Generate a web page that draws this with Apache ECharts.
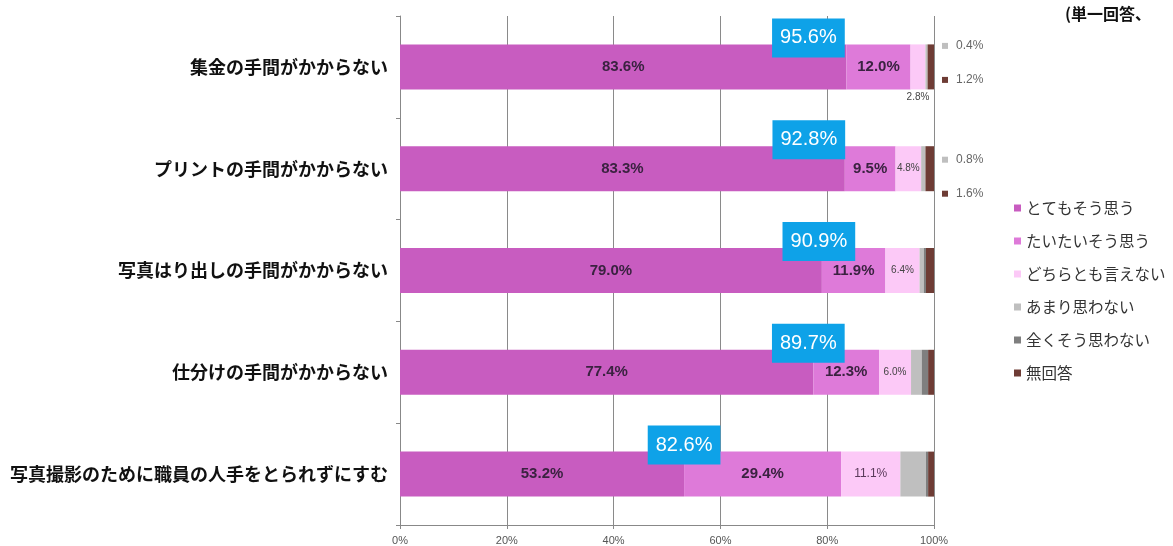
<!DOCTYPE html>
<html><head><meta charset="utf-8">
<script src="https://cdn.jsdelivr.net/npm/echarts@6/dist/echarts.min.js"></script>
<style>html,body{margin:0;padding:0;background:#fff;}#c{width:1173px;height:546px;}</style>
</head><body><div id="c"></div>
<script>
// ---- data ----
const categories = ['集金の手間がかからない','プリントの手間がかからない','写真はり出しの手間がかからない','仕分けの手間がかからない','写真撮影のために職員の人手をとられずにすむ'];
const seriesNames = ['とてもそう思う','たいたいそう思う','どちらとも言えない','あまり思わない','全くそう思わない','無回答'];
const veryMuch = [83.6, 83.3, 79.0, 77.4, 53.2];
const mostly   = [12.0, 9.5, 11.9, 12.3, 29.4];
const neutral  = [2.8, 4.8, 6.4, 6.0, 11.1];
const notMuch  = [0.4, 0.8, 0.8, 2.0, 4.8];
const notAtAll = [0, 0, 0.4, 1.2, 0.4];
const noAnswer = [1.2, 1.6, 1.6, 1.2, 1.2];
const noteText = '(単一回答、';

// ---- layout / style ----
const colors = ['#c85cc0','#de7ad9','#fcc9f7','#bfbfbf','#7f7f7f','#6e3c35'];
const boxDx = [-38, -36, -3, -5, 0];
const sideDy = [-4, 8, 7, 6, 6];
const numFont = '"Liberation Sans", Arial, sans-serif';
const jpFont = '"Noto Sans CJK JP", sans-serif';

const allSeries = [veryMuch, mostly, neutral, notMuch, notAtAll, noAnswer];

const bars = allSeries.map((vals, si) => ({
  name: seriesNames[si], type: 'bar', stack: 'total', barWidth: 45,
  itemStyle: { color: colors[si] },
  emphasis: { disabled: true },
  data: vals.map((v, ri) => {
    const item = { value: v };
    if (si === 2) {
      item.label = {
        show: true,
        position: ri === 0 ? 'bottom' : 'inside',
        distance: 3,
        fontSize: ri === 4 ? 12 : 10,
        color: ri === 4 ? '#5a3a5a' : '#444',
        fontFamily: numFont,
        formatter: v.toFixed(1) + '%'
      };
    }
    return item;
  }),
  label: si < 2 ? {
    show: true, position: 'inside', fontSize: 15, fontWeight: 'bold',
    color: '#3a2240', fontFamily: numFont,
    formatter: p => p.value.toFixed(1) + '%'
  } : { show: false }
}));

const boxSeries = {
  name: 'top2', type: 'scatter', symbolSize: 0, silent: true, z: 10,
  itemStyle: { opacity: 1 },
  data: veryMuch.map((v, i) => ({
    value: [v, i],
    label: {
      show: true, position: 'inside', offset: [boxDx[i], -29],
      formatter: (veryMuch[i] + mostly[i]).toFixed(1) + '%',
      fontSize: 20, color: '#fff', fontFamily: numFont,
      backgroundColor: '#0ea2e8', padding: [10, 8, 9, 8]
    }
  }))
};

const sideColorKeys = ['m0','m1','m2'];
const sideSeries = {
  name: 'side', type: 'scatter', symbolSize: 0, silent: true, z: 10,
  itemStyle: { opacity: 1 },
  data: categories.map((c, i) => {
    const total = allSeries.reduce((s, a) => s + a[i], 0);
    const lines = [];
    [notMuch, notAtAll, noAnswer].forEach((arr, k) => {
      if (arr[i] > 0) lines.push('{' + sideColorKeys[k] + '| }{t|' + arr[i].toFixed(1) + '%}');
    });
    const lh = lines.length === 2 ? 34 : 23.5;
    const mk = col => ({ width: 6, height: 6, backgroundColor: col, lineHeight: lh });
    return {
      value: [total, i],
      label: {
        show: true, position: 'right', distance: 8, offset: [0, sideDy[i]],
        formatter: lines.join('\n'),
        rich: {
          m0: mk(colors[3]), m1: mk(colors[4]), m2: mk(colors[5]),
          t: { fontSize: 12, color: '#666', fontFamily: numFont, padding: [0, 0, 0, 8], lineHeight: lh }
        }
      }
    };
  })
};

const chart = echarts.init(document.getElementById('c'), null, { renderer: 'canvas' });
chart.setOption({
  animation: false,
  backgroundColor: '#fff',
  grid: { left: 400, right: 239, top: 16, bottom: 21 },
  legend: {
    data: seriesNames, orient: 'vertical', left: 1009, top: 195,
    itemWidth: 7, itemHeight: 7, itemGap: 17, icon: 'rect',
    textStyle: { fontSize: 15.5, color: '#333', fontFamily: jpFont, lineHeight: 16 }
  },
  xAxis: {
    type: 'value', min: 0, max: 100, interval: 20,
    axisLine: { show: true, lineStyle: { color: '#888' } },
    axisTick: { show: true, length: 4, lineStyle: { color: '#888' } },
    splitLine: { show: true, lineStyle: { color: '#8a8a8a' } },
    axisLabel: { formatter: '{value}%', fontSize: 11, color: '#555', margin: 10, fontFamily: numFont }
  },
  yAxis: {
    type: 'category', data: categories, inverse: true,
    axisLine: { show: true, lineStyle: { color: '#888' } },
    axisTick: { show: true, length: 4, lineStyle: { color: '#888' } },
    axisLabel: { fontSize: 18, fontWeight: 'bold', color: '#111', margin: 12, fontFamily: jpFont }
  },
  graphic: [{
    type: 'text', left: 1065, top: 6,
    style: { text: noteText, fontSize: 16, fontWeight: 'bold', fill: '#111', fontFamily: jpFont }
  }],
  series: [...bars, boxSeries, sideSeries]
});
</script></body></html>
